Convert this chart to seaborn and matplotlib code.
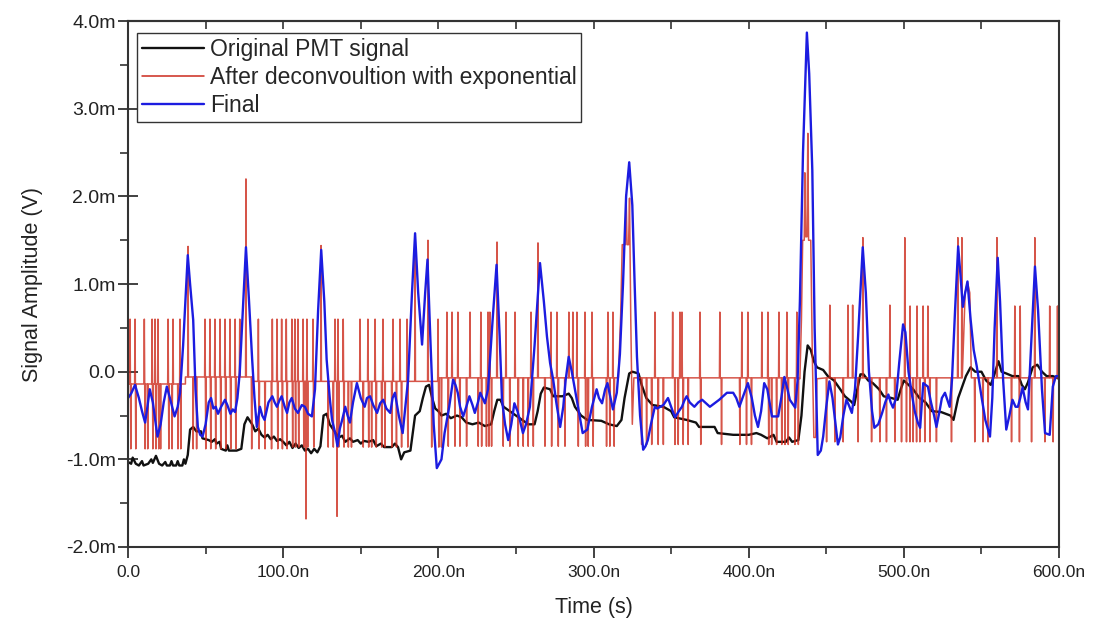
import numpy as np
import pandas as pd
import matplotlib
matplotlib.use("Agg")
import matplotlib.pyplot as plt
from matplotlib.ticker import FuncFormatter, MultipleLocator
import seaborn as sns

# ---------------- data (time in ns, amplitude in mV) ----------------
black_t = [0, 2, 3, 5, 7, 9, 10, 13, 15, 16, 18, 20, 22, 24, 25, 27, 28, 29, 31, 32, 33, 35, 36, 37, 38.5,
           40, 42, 44, 47, 48, 52, 54, 56, 57, 59, 60, 63, 64, 65, 70, 73, 75, 77, 80, 82, 84, 86, 88, 90,
           92, 94, 96, 98, 100, 102, 104, 106, 108, 110, 112, 114, 116, 118, 120, 122, 124, 126, 128, 130,
           133, 136, 138, 140, 143, 145, 148, 150, 152, 155, 158, 160, 163, 165, 170, 172, 174, 176, 178,
           182, 185, 188, 190, 192, 194, 196, 198, 200, 202, 205, 208, 212, 215, 218, 222, 226, 230, 234,
           236, 238, 240, 242, 246, 250, 254, 258, 262, 264, 266, 268, 272, 274, 280, 284, 286, 288, 292,
           296, 305, 310, 315, 318, 320, 323, 325, 329, 331, 334, 338, 345, 350, 352, 360, 366, 368, 378,
           380, 390, 400, 405, 408, 412, 416, 418, 424, 426, 428, 432, 434, 436, 438, 440, 442, 444, 448,
           451, 455, 459, 462, 466, 468, 470, 472, 474, 477, 480, 484, 487, 492, 496, 498, 500, 503, 506,
           510, 514, 518, 524, 530, 532, 535, 538, 540, 543, 546, 550, 553, 556, 558, 561, 563, 566, 570,
           574, 576, 578, 580, 583, 586, 589, 592, 596, 600]
black_v = [-1.03, -1.05, -0.98, -1.05, -1.07, -1.02, -1.07, -1.05, -1.0, -1.04, -0.96, -1.05, -1.07, -1.03,
           -1.07, -1.07, -1.02, -1.07, -1.07, -1.02, -1.07, -1.07, -1.0, -1.05, -0.95,
           -0.66, -0.63, -0.68, -0.68, -0.76, -0.78, -0.8, -0.77, -0.82, -0.8, -0.88, -0.9, -0.84, -0.9,
           -0.9, -0.88, -0.6, -0.52, -0.6, -0.68, -0.65, -0.72, -0.75, -0.72,
           -0.77, -0.74, -0.79, -0.77, -0.8, -0.84, -0.8, -0.87, -0.82, -0.87, -0.84, -0.9, -0.88, -0.93,
           -0.88, -0.92, -0.85, -0.5, -0.48, -0.6,
           -0.68, -0.75, -0.73, -0.8, -0.76, -0.8, -0.78, -0.82, -0.79, -0.8, -0.78, -0.85, -0.82, -0.86,
           -0.86, -0.82, -0.86, -1.0, -0.92,
           -0.9, -0.5, -0.45, -0.3, -0.17, -0.15, -0.3, -0.42, -0.45, -0.5, -0.48, -0.53, -0.5, -0.52,
           -0.58, -0.6, -0.58, -0.62, -0.6,
           -0.45, -0.32, -0.32, -0.4, -0.45, -0.5, -0.55, -0.6, -0.6, -0.45, -0.25, -0.18, -0.2, -0.28,
           -0.28, -0.25, -0.3, -0.4, -0.5,
           -0.55, -0.56, -0.6, -0.62, -0.55, -0.3, -0.02, 0.0, -0.02, -0.15, -0.3, -0.38, -0.4, -0.45,
           -0.52, -0.55, -0.58, -0.63, -0.63,
           -0.7, -0.72, -0.72, -0.7, -0.72, -0.76, -0.72, -0.8, -0.8, -0.75, -0.8, -0.78, -0.5, 0.0, 0.3,
           0.25, 0.12, 0.05, 0.02,
           -0.05, -0.1, -0.2, -0.28, -0.34, -0.38, -0.2, -0.03, -0.03, -0.1, -0.13, -0.2, -0.28, -0.3,
           -0.32, -0.2, -0.1, -0.15, -0.2,
           -0.3, -0.35, -0.45, -0.46, -0.5, -0.55, -0.3, -0.15, -0.05, 0.05, 0.0, 0.0, -0.1, -0.15, -0.05,
           0.12, 0.0, -0.02, -0.05,
           -0.05, -0.15, -0.2, -0.12, 0.05, 0.08, 0.0, -0.05, -0.05, -0.08]

blue_t = [0, 2, 4.5, 7, 9, 11, 12.5, 14, 16, 17.5, 19, 21, 23, 25, 27, 30, 32, 33.5, 35.5, 38.5, 40, 42,
          43.5, 45, 46.5, 48, 50, 52, 53.5, 55, 56.5, 58, 60, 62.5, 64, 66, 67.5, 69, 70.5, 72, 74, 76,
          78, 80, 81.5, 83, 85, 86.5, 88, 90.5, 93, 94.5, 96, 97.5, 99, 101, 102.5, 104, 105.5, 107.5,
          109.5, 112, 114, 116, 118.5, 120.5, 122.5, 124.5, 126.5, 128, 130, 131.5, 133.5, 135, 136.5,
          138, 140, 141.5, 143, 145, 147.5, 150, 152.5, 154, 156, 158, 160.5, 162.5, 164.5, 166.5, 169,
          170.5, 172, 174.5, 177, 179, 180.5, 183, 185, 187, 189.5, 191.5, 193, 195, 197, 199, 200.5,
          202, 204, 207, 209.5, 211, 212.5, 214, 216, 218, 220, 222, 223.5, 225.5, 227, 228.5, 230, 232,
          235, 237.5, 239.5, 241, 243, 245, 247, 249, 251, 252.5, 254.5, 256.5, 259, 262, 265.5, 268,
          270, 272, 274, 276, 278.5, 280.5, 282, 284, 286, 288, 290, 293, 296, 299, 302, 303.5, 305.5,
          307.5, 309, 311, 312.5, 315, 317, 319, 321, 323, 325, 326.5, 328, 330, 332, 333.5, 335, 337,
          339.5, 341, 343, 345, 348, 350, 352.5, 355, 357, 358.5, 360, 362, 365, 367.5, 370, 372.5, 375,
          378, 381, 383.5, 386, 390, 392, 394, 396, 399.5, 402, 404, 406, 408, 410, 412, 415, 419, 421,
          423, 425, 426.5, 430, 431.5, 433, 435, 437.5, 439, 441, 442.5, 444.5, 446.5, 448, 450, 452,
          454, 456, 457.5, 459, 461, 463, 464.5, 466.5, 468.5, 470.5, 473.5, 475.5, 477.5, 479.5, 481,
          483.5, 486, 488, 490, 491.5, 493, 495, 497, 499.5, 501, 503, 505, 507, 509, 510.5, 512.5, 514,
          515.5, 517.5, 519.5, 521, 523, 524.5, 526.5, 528, 529.5, 531, 533, 535, 536.5, 538, 539.5, 541,
          543, 545, 547, 550, 552.5, 555.5, 557, 558.5, 560.5, 562, 564, 566, 568, 570, 572, 573.5, 575,
          576.5, 578.5, 580, 582, 584.5, 586.5, 589, 591, 594, 596, 598, 600]
blue_v = [-0.3, -0.25, -0.15, -0.3, -0.45, -0.58, -0.4, -0.2, -0.35, -0.55, -0.74, -0.6, -0.35, -0.17,
          -0.3, -0.51, -0.4, -0.24, 0.3, 1.33, 1.0, 0.59,
          -0.2, -0.63, -0.72, -0.74, -0.6, -0.35, -0.3, -0.42, -0.4, -0.48, -0.4, -0.32, -0.38, -0.48,
          -0.43, -0.46, -0.3, -0.01, 0.7, 1.42,
          0.8, 0.14, -0.3, -0.63, -0.4, -0.5, -0.55, -0.35, -0.28, -0.35, -0.4, -0.33, -0.28, -0.4, -0.47,
          -0.35, -0.3, -0.42,
          -0.47, -0.38, -0.4, -0.48, -0.51, -0.2, 0.7, 1.39, 0.8, 0.14, -0.3, -0.55, -0.7, -0.85, -0.65,
          -0.55, -0.4, -0.5, -0.58, -0.35, -0.13, -0.3, -0.4, -0.3, -0.28, -0.38, -0.47, -0.36, -0.32,
          -0.42, -0.47,
          -0.3, -0.24, -0.5, -0.7, -0.35, -0.09, 0.9, 1.58, 0.9, 0.31, 0.9, 1.28, 0.3, -0.6, -1.1, -1.05,
          -1.0, -0.7, -0.4, -0.09, -0.15, -0.24, -0.4, -0.51, -0.4, -0.28, -0.38, -0.47, -0.35, -0.24,
          -0.3, -0.36, -0.2,
          0.6, 1.22, 0.4, -0.32, -0.6, -0.78, -0.6, -0.36, -0.45, -0.55, -0.7, -0.6, -0.4, 0.3, 1.24, 0.8,
          0.4, 0.1, -0.09, -0.35, -0.63, -0.4, -0.1, 0.17, 0.0, -0.2, -0.4, -0.7, -0.66, -0.4, -0.2, -0.3,
          -0.36,
          -0.2, -0.13, -0.3, -0.43, -0.24, 0.2, 1.0, 2.0, 2.39, 1.9, 1.0, 0.17, -0.5, -0.89, -0.85, -0.78,
          -0.6,
          -0.4, -0.42, -0.4, -0.38, -0.3, -0.4, -0.52, -0.45, -0.4, -0.33, -0.28, -0.35, -0.4, -0.35, -0.32,
          -0.36, -0.4,
          -0.36, -0.32, -0.28, -0.24, -0.24, -0.3, -0.4, -0.3, -0.13, -0.3, -0.5, -0.63, -0.45, -0.13,
          -0.2, -0.51, -0.51, -0.3,
          -0.06, -0.2, -0.32, -0.41, -0.1, 0.8, 2.5, 3.87, 3.4, 2.3, 0.5, -0.95, -0.9, -0.74, -0.4, -0.11,
          -0.3, -0.6, -0.83, -0.75, -0.5, -0.32, -0.38, -0.47, -0.2, 0.4, 1.42, 0.9, 0.0, -0.45, -0.64,
          -0.6, -0.47, -0.35, -0.26, -0.35, -0.41, -0.3, 0.1, 0.54, 0.45, 0.0, -0.24, -0.45, -0.58, -0.64,
          -0.13, -0.15,
          -0.17, -0.35, -0.5, -0.63, -0.45, -0.3, -0.24, -0.32, -0.4, -0.1, 0.7, 1.43, 1.1, 0.74, 0.9, 1.03,
          0.6, 0.25, 0.06, -0.28, -0.55, -0.74, -0.3, 0.5, 1.3, 0.8, -0.1, -0.66, -0.5, -0.32, -0.4, -0.4,
          -0.3,
          -0.18, -0.35, -0.43, 0.3, 1.2, 0.7, -0.2, -0.7, -0.72, -0.17, -0.05, -0.05]

# deconvolved trace: baseline levels, ringing spikes and the two large pulses
red_base_edges = [0, 37, 80, 200, 600]
red_base_levels = [-0.14, -0.06, -0.11, -0.07]

red_up_t = [1.3, 4.5, 10.5, 15.5, 17.4, 19.3, 25.8, 29.0, 33.5, 38.7, 49.6, 52.8, 56.0, 59.3, 62.5, 65.7,
            69.0, 72.0, 76.0, 84.0, 93.0, 96.0, 99.0, 102.0,
            105.6, 107.5, 109.5, 112.8, 115.3, 119.2, 124.4, 133.4, 135.3, 138.7, 149.5, 154.6, 159.2,
            164.3, 170.8, 175.3, 179.8, 185.0, 193.3, 199.8,
            205.5, 208.8, 212.6, 220.4, 227.4, 232.0, 233.2, 237.8, 243.6, 249.4, 259.7, 264.2, 272.6,
            276.4, 284.1, 286.7, 289.3, 294.5, 299.0, 309.3, 312.5,
            339.6, 351.0, 355.7, 357.0, 368.6, 381.4, 395.6, 399.5, 408.5, 412.4, 419.5, 424.6, 431.0,
            452.3, 464.0, 467.0, 473.6, 491.0, 500.6, 504.0, 508.5, 512.4, 515.5, 534.8, 537.4, 560.0,
            571.5, 575.0, 584.4, 594.0, 599.0]
red_up_v = [0.6, 0.6, 0.6, 0.6, 0.6, 0.6, 0.6, 0.6, 0.6, 1.43, 0.6, 0.6, 0.6, 0.6, 0.6, 0.6,
            0.6, 0.6, 2.2, 0.6, 0.6, 0.6, 0.6, 0.6,
            0.6, 0.6, 0.6, 0.6, 0.6, 0.6, 1.44, 0.6, 0.6, 0.6, 0.6, 0.6, 0.6,
            0.6, 0.6, 0.6, 0.6, 1.5, 1.5, 0.6,
            0.68, 0.68, 0.68, 0.68, 0.68, 0.68, 0.68, 1.48, 0.68, 0.68, 0.68, 1.47, 0.68,
            0.68, 0.68, 0.68, 0.68, 0.68, 0.68, 0.68, 0.68,
            0.68, 0.68, 0.68, 0.68, 0.68, 0.68, 0.68, 0.68, 0.68, 0.68, 0.68, 0.68, 0.68,
            0.76, 0.76, 0.76, 1.53, 0.76, 1.53, 0.75, 0.75, 0.75, 0.75, 1.53, 1.53, 1.53,
            0.75, 0.75, 1.53, 0.75, 0.75]

red_dn_t = [1.8, 5.0, 11.0, 12.7, 16.0, 18.0, 19.8, 21.0, 26.3, 28.4, 32.2, 34.0, 42.0, 44.2, 50.1, 53.3,
            56.5, 59.8, 63.0, 66.2, 69.5, 79.7, 84.5, 88.3, 92.5, 96.5, 99.5, 102.5,
            106.1, 108.0, 110.0, 113.3, 114.7, 115.8, 119.7, 129.0, 132.3, 134.7, 135.8, 139.2, 142.0,
            144.0, 151.6, 155.1, 157.0, 160.0, 163.5, 165.6, 170.0, 173.0, 176.3, 180.3, 195.7, 200.3,
            202.0,
            206.4, 210.7, 213.9, 218.2, 225.7, 227.9, 231.0, 232.6, 234.3, 241.8, 246.1, 251.5, 254.7,
            257.9, 261.2, 268.7, 273.0, 277.3, 281.6, 290.2, 294.9, 296.6, 299.8, 308.4, 310.5, 313.3,
            331.0, 334.2, 337.5, 341.7, 345.0, 352.5, 354.6, 357.8, 361.0, 369.1, 382.5, 394.3, 398.6,
            401.8, 412.9, 414.8, 418.0, 421.3, 423.4, 425.5, 429.8, 432.0,
            450.2, 455.5, 460.9, 470.5, 479.2, 484.5, 488.8, 494.2, 498.5, 501.7, 503.9, 506.0, 508.2,
            510.3, 513.5, 516.8, 521.0, 530.7, 545.7, 551.0, 554.3, 569.4, 574.5, 582.3, 590.9, 596.2]
red_dn_v = [-0.88] * 28 + \
           [-0.86, -0.86, -0.86, -0.86, -1.68, -0.86, -0.86, -0.86, -0.86, -1.65, -0.86, -0.86, -0.86,
            -0.86, -0.86, -0.86, -0.86, -0.86, -0.86, -0.86, -0.86, -0.86, -0.86, -0.86, -0.86, -0.86,
            -0.86] + \
           [-0.85] * 26 + [-0.83] * 22 + [-0.8] * 26

red_pk_t = [316.0, 317.5, 318.5, 320.5, 321.0, 321.6, 322.6, 323.2, 324.0, 325.0, 326.0,
            433.0, 434.0, 434.8, 435.8, 436.2, 436.7, 437.6, 438.1, 438.6, 440.0, 441.0, 442.0, 443.2,
            444.0, 539.5, 541.0, 542.5, 543.5]
red_pk_v = [-0.07, 0.65, 1.45, 1.45, 2.02, 1.45, 1.45, 1.98, 0.6, -0.6, -0.07,
            -0.08, 0.6, 1.5, 1.5, 2.27, 1.54, 1.54, 2.72, 1.5, 1.5, 0.2, -0.75, -0.75,
            -0.08, 0.9, 1.02, 0.9, -0.07]

labels = ["Original PMT signal", "After deconvoultion with exponential", "Final"]
x_ticks = [0, 100, 200, 300, 400, 500, 600]
y_ticks = [-2, -1, 0, 1, 2, 3, 4]

assert len(black_t) == len(black_v)
assert len(blue_t) == len(blue_v)
assert len(red_up_t) == len(red_up_v)
assert len(red_dn_t) == len(red_dn_v)
assert len(red_pk_t) == len(red_pk_v)


# ---------------- build the red polyline from the read values ----------------
def base_at(t):
    i = int(np.searchsorted(red_base_edges, t, side="right")) - 1
    i = min(max(i, 0), len(red_base_levels) - 1)
    return red_base_levels[i]


pts = [(0.0, base_at(0.0)), (600.0, base_at(600.0))]
for e in red_base_edges[1:-1]:
    i = red_base_edges.index(e)
    pts.append((e - 0.01, red_base_levels[i - 1]))
    pts.append((e, red_base_levels[i]))
hw = 0.25
for t, v in list(zip(red_up_t, red_up_v)) + list(zip(red_dn_t, red_dn_v)):
    b = base_at(t)
    pts += [(t - hw, b), (t, v), (t + hw, b)]
pts += list(zip(red_pk_t, red_pk_v))
pts.sort(key=lambda p: p[0])
red_df = pd.DataFrame(pts, columns=["t", "v"])

black_df = pd.DataFrame({"t": black_t, "v": black_v})
blue_df = pd.DataFrame({"t": blue_t, "v": blue_v})

# ---------------- plot ----------------
sns.set_theme(style="ticks")
plt.rcParams["font.family"] = ["Liberation Sans", "DejaVu Sans"]

fig = plt.figure(figsize=(10.98, 6.23), dpi=100)
ax = fig.add_axes([0.1166, 0.122, 0.8479, 0.844])

sns.lineplot(data=black_df, x="t", y="v", ax=ax, color="#111111", lw=1.7,
             estimator=None, sort=False, label=labels[0])
sns.lineplot(data=red_df, x="t", y="v", ax=ax, color="#cc2a1c", lw=1.1, alpha=0.8,
             estimator=None, sort=False, label=labels[1])
sns.lineplot(data=blue_df, x="t", y="v", ax=ax, color="#1c1ce0", lw=1.7,
             estimator=None, sort=False, label=labels[2])

ax.set_xlim(0, 600)
ax.set_ylim(-2, 4)
ax.set_xticks(x_ticks)
ax.set_yticks(y_ticks)
ax.xaxis.set_minor_locator(MultipleLocator(50))
ax.yaxis.set_minor_locator(MultipleLocator(0.5))
ax.xaxis.set_major_formatter(FuncFormatter(lambda v, p: "0.0" if v == 0 else f"{v:.1f}n"))
ax.yaxis.set_major_formatter(FuncFormatter(lambda v, p: "0.0" if v == 0 else f"{v:.1f}m"))

for s in ax.spines.values():
    s.set_linewidth(1.5)
    s.set_color("#333333")

ax.tick_params(axis="x", which="major", direction="out", length=8, width=1.3,
               labelsize=12.5, colors="#333333", labelcolor="#222222", pad=5)
ax.tick_params(axis="x", which="minor", direction="out", length=5, width=1.2, colors="#333333")
ax.tick_params(axis="y", which="major", direction="inout", length=14, width=1.3,
               labelsize=14, colors="#333333", labelcolor="#222222", pad=2)
ax.tick_params(axis="y", which="minor", direction="out", length=6, width=1.2, colors="#333333")

top = ax.secondary_xaxis("top")
top.set_xticks(x_ticks)
top.xaxis.set_minor_locator(MultipleLocator(50))
top.tick_params(which="both", direction="in", length=6, width=1.2, labeltop=False, colors="#333333")
top.spines["top"].set_linewidth(1.5)
top.spines["top"].set_color("#333333")

ax.set_xlabel("Time (s)", fontsize=15.5, color="#222222", labelpad=12)
ax.set_ylabel("Signal Amplitude (V)", fontsize=15.5, color="#222222", labelpad=16)

leg = ax.legend(loc="upper left", bbox_to_anchor=(0.0097, 0.977), fontsize=16.5,
                frameon=True, fancybox=False, edgecolor="#333333", framealpha=1,
                handlelength=2.7, handletextpad=0.25, labelspacing=0.22, borderpad=0.22,
                borderaxespad=0)
leg.get_frame().set_linewidth(1.0)
for line in leg.get_lines():
    line.set_alpha(1)

fig.savefig("out.png", dpi=100)
